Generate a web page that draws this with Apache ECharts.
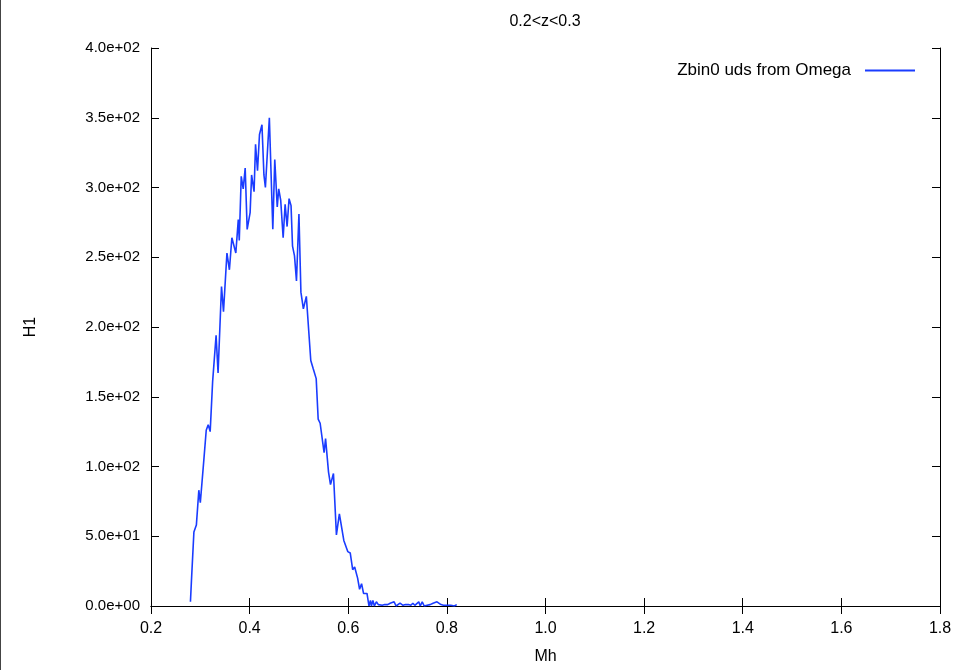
<!DOCTYPE html>
<html>
<head>
<meta charset="utf-8">
<script src="https://cdn.jsdelivr.net/npm/echarts@6/dist/echarts.min.js"></script>
<style>html,body{margin:0;padding:0;background:#fff;}#c{width:959px;height:670px;}</style>
</head>
<body>
<div id="c"></div>
<script>
const title = '0.2<z<0.3';
const seriesName = 'Zbin0 uds from Omega';
const xName = 'Mh';
const yName = 'H1';
const xs = [0.280,0.282,0.287,0.292,0.297,0.300,0.307,0.312,0.316,0.320,0.325,0.332,0.336,0.343,0.347,0.354,0.359,0.364,0.372,0.377,0.379,0.383,0.387,0.391,0.395,0.401,0.404,0.409,0.412,0.416,0.420,0.425,0.429,0.432,0.440,0.447,0.451,0.456,0.459,0.463,0.468,0.472,0.476,0.480,0.484,0.487,0.491,0.495,0.500,0.504,0.509,0.515,0.524,0.529,0.533,0.535,0.539,0.543,0.547,0.551,0.554,0.560,0.564,0.570,0.576,0.582,0.591,0.599,0.604,0.609,0.613,0.619,0.623,0.627,0.631,0.635,0.638,0.642,0.645,0.647,0.650,0.653,0.657,0.661,0.665,0.669,0.674,0.680,0.685,0.689,0.693,0.697,0.701,0.705,0.711,0.716,0.722,0.727,0.731,0.735,0.739,0.743,0.746,0.750,0.754,0.760,0.766,0.772,0.776,0.780,0.784,0.788,0.793,0.800,0.808,0.815,0.820];
const ys = [3,18,53,58,83,74,104,126,130,125,161,194,167,229,211,253,241,264,253,277,262,308,299,314,270,282,309,297,331,312,338,345,309,300,350,270,320,286,299,291,264,288,272,292,287,258,251,233,281,225,213,222,176,170,171,163,134,131,131,110,120,96,87,95,51,66,47,39,38,26,28,20,12,16,9,8,9,0,4,0,4,0,3,1,2,0.5,1,1,2,1,3,0,1,2,0.5,1,1,0.5,2,0.5,0.5,3,0,3,0,0.5,1,2,3,3,3,1,0.5,0.5,0.5,0,1];
const xTicks = {min: 0.2, max: 1.8, interval: 0.2};
const yTicks = {min: 0, max: 400, interval: 50};

const data = xs.map((x, i) => [x, ys[i]]);
const font = '"Liberation Sans", Arial, Helvetica, sans-serif';
function expFmt(v) {
  let s = Number(v).toExponential(1);
  return s.replace(/e([+-])(\d)$/, 'e$10$2');
}
const axisCommon = {
  axisLine: {show: true, lineStyle: {color: '#000', width: 1}},
  axisTick: {show: true, inside: true, length: 8, lineStyle: {color: '#000'}},
  splitLine: {show: false}
};
const chart = echarts.init(document.getElementById('c'), null, {renderer: 'canvas'});
chart.setOption({
  animation: false,
  backgroundColor: '#fff',
  title: {text: title, left: 540, top: 9, textAlign: 'center',
    textStyle: {fontFamily: font, fontSize: 16, fontWeight: 'normal', color: '#000'}},
  legend: {
    data: [seriesName], right: 39, top: 57, align: 'right',
    icon: 'rect', itemWidth: 50, itemHeight: 2,
    textStyle: {fontFamily: font, fontSize: 17, color: '#000', padding: [0, 9, 0, 0]}
  },
  grid: {left: 151, right: 19, top: 48, bottom: 62, containLabel: false},
  xAxis: [
    Object.assign({type: 'value', position: 'bottom', min: xTicks.min, max: xTicks.max, interval: xTicks.interval,
      name: xName, nameLocation: 'middle', nameGap: 43,
      nameTextStyle: {fontFamily: font, fontSize: 16, color: '#000'},
      axisLabel: {formatter: v => v.toFixed(1), fontFamily: font, fontSize: 16, color: '#000', margin: 15}}, axisCommon),
    Object.assign({type: 'value', position: 'top', min: xTicks.min, max: xTicks.max, interval: xTicks.interval,
      axisLabel: {show: false}}, axisCommon)
  ],
  yAxis: [
    Object.assign({type: 'value', position: 'left', min: yTicks.min, max: yTicks.max, interval: yTicks.interval,
      name: yName, nameLocation: 'middle', nameGap: 112, nameRotate: 90,
      nameTextStyle: {fontFamily: font, fontSize: 16, color: '#000'},
      axisLabel: {formatter: expFmt, fontFamily: font, fontSize: 15, color: '#000', margin: 11}}, axisCommon),
    Object.assign({type: 'value', position: 'right', min: yTicks.min, max: yTicks.max, interval: yTicks.interval,
      axisLabel: {show: false}}, axisCommon)
  ],
  series: [{
    name: seriesName, type: 'line', data: data, showSymbol: false, symbol: 'none',
    lineStyle: {color: '#1a3cff', width: 1.6}, itemStyle: {color: '#1a3cff'}, xAxisIndex: 0, yAxisIndex: 0
  }],
  graphic: [{type: 'line', shape: {x1: 0.5, y1: 0, x2: 0.5, y2: 670}, style: {stroke: '#444', lineWidth: 1}}]
});
</script>
</body>
</html>
